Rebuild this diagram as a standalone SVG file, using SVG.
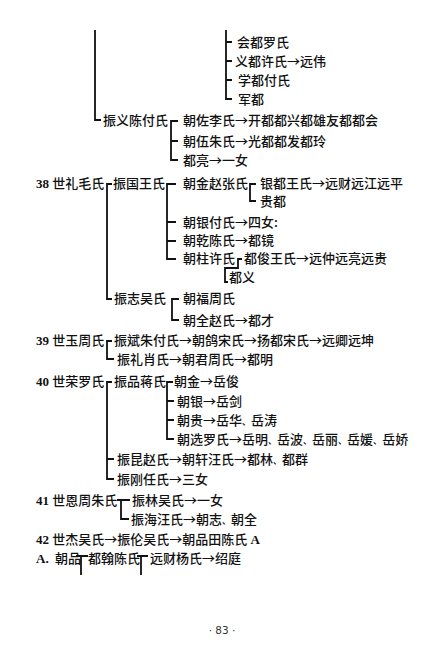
<svg xmlns="http://www.w3.org/2000/svg" width="436" height="650" viewBox="0 0 436 650">
<style>
.t{font-family:'Noto Sans CJK SC',sans-serif;font-size:13px;font-weight:500;fill:#111}
.n{font-family:'Liberation Serif',serif;font-weight:bold}
.d{font-size:9px}
.pg{font-family:'DejaVu Sans',sans-serif;font-size:10.5px;fill:#333;text-anchor:middle}
.c{stroke:#111;stroke-width:1.8;fill:none}
</style>
<rect width="436" height="650" fill="#fff"/>
<g id="connectors">
<path class="c" d="M95,30 V120 H101"/>
<path class="c" d="M226,30 V99 H232 M226,42 H232 M226,61 H232 M226,80 H232"/>
<path class="c" d="M178,121 H171 V160 H178 M171,141 H178"/>
<path class="c" d="M112,184 H107 V299 H112"/>
<path class="c" d="M176,184 H167 V259 H176 M167,222 H176 M167,241 H176"/>
<path class="c" d="M256,184 H250 V201 H256"/>
<path class="c" d="M242,259 H238 V268 H225 V282 H228"/>
<path class="c" d="M179,299 H172 V320 H179"/>
<path class="c" d="M112,341 H107 V359 H114"/>
<path class="c" d="M112,382 H107 V479 H114 M107,459 H114"/>
<path class="c" d="M173,382 H167 V439 H174 M167,401 H174 M167,420 H174"/>
<path class="c" d="M117,500 H130 M121,500 V519 H129"/>
<path class="c" d="M76,556 H88 M81,556 V575 M137,556 H148 M141,556 V575"/>
</g>
<g id="n-huidu"><text class="t" x="237" y="47">会都罗氏</text></g>
<g id="n-yidu"><text class="t" x="235" y="66">义都许氏→远伟</text></g>
<g id="n-xuedu"><text class="t" x="238" y="85">学都付氏</text></g>
<g id="n-jundu"><text class="t" x="238" y="104">军都</text></g>
<g id="n-zhenyi"><text class="t" x="103" y="125">振义陈付氏</text></g>
<g id="n-chaozuo"><text class="t" x="183" y="125">朝佐李氏→开都都兴都雄友都都会</text></g>
<g id="n-chaowu"><text class="t" x="183" y="146">朝伍朱氏→光都都发都玲</text></g>
<g id="n-duliang"><text class="t" x="183" y="165">都亮→一女</text></g>
<g id="n-38"><text class="t" x="36" y="188"><tspan class="n">38 </tspan>世礼毛氏</text></g>
<g id="n-zhenguo"><text class="t" x="113" y="188">振国王氏</text></g>
<g id="n-chaojin"><text class="t" x="183" y="188">朝金赵张氏</text></g>
<g id="n-yindu"><text class="t" x="260" y="188">银都王氏→远财远江远平</text></g>
<g id="n-guidu"><text class="t" x="260" y="206">贵都</text></g>
<g id="n-chaoyin"><text class="t" x="183" y="227">朝银付氏→四女:</text></g>
<g id="n-chaoqian"><text class="t" x="183" y="245">朝乾陈氏→都镜</text></g>
<g id="n-chaozhu"><text class="t" x="183" y="263">朝柱许氏</text></g>
<g id="n-dujun"><text class="t" x="244" y="263">都俊王氏→远仲远亮远贵</text></g>
<g id="n-duyi"><text class="t" x="229" y="282">都义</text></g>
<g id="n-zhenzhi"><text class="t" x="114" y="303">振志吴氏</text></g>
<g id="n-chaofu"><text class="t" x="183" y="303">朝福周氏</text></g>
<g id="n-chaoquan"><text class="t" x="183" y="325">朝全赵氏→都才</text></g>
<g id="n-39"><text class="t" x="36" y="345"><tspan class="n">39 </tspan>世玉周氏</text></g>
<g id="n-zhenbin"><text class="t" x="114" y="345">振斌朱付氏→朝鸽宋氏→扬都宋氏→远卿远坤</text></g>
<g id="n-zhenli"><text class="t" x="117" y="364">振礼肖氏→朝君周氏→都明</text></g>
<g id="n-40"><text class="t" x="36" y="386"><tspan class="n">40 </tspan>世荣罗氏</text></g>
<g id="n-zhenpin"><text class="t" x="114" y="386">振品蒋氏</text></g>
<g id="n-chaojin2"><text class="t" x="174" y="386">朝金→岳俊</text></g>
<g id="n-chaoyin2"><text class="t" x="177" y="406">朝银→岳剑</text></g>
<g id="n-chaogui"><text class="t" x="177" y="425">朝贵→岳华<tspan class="d">、</tspan>岳涛</text></g>
<g id="n-chaoxuan"><text class="t" x="177" y="444">朝选罗氏→岳明<tspan class="d">、</tspan>岳波<tspan class="d">、</tspan>岳丽<tspan class="d">、</tspan>岳媛<tspan class="d">、</tspan>岳娇</text></g>
<g id="n-zhenkun"><text class="t" x="117" y="464">振昆赵氏→朝轩汪氏→都林<tspan class="d">、</tspan>都群</text></g>
<g id="n-zhengang"><text class="t" x="117" y="484">振刚任氏→三女</text></g>
<g id="n-41"><text class="t" x="36" y="505"><tspan class="n">41 </tspan>世恩周朱氏</text></g>
<g id="n-zhenlin"><text class="t" x="132" y="505">振林吴氏→一女</text></g>
<g id="n-zhenhai"><text class="t" x="131" y="524">振海汪氏→朝志<tspan class="d">、</tspan>朝全</text></g>
<g id="n-42"><text class="t" x="36" y="544"><tspan class="n">42 </tspan>世杰吴氏→振伦吴氏→朝品田陈氏<tspan class="n"> A</tspan></text></g>
<g id="n-a"><text class="t" x="36" y="563"><tspan class="n">A. </tspan><tspan dx="3">朝品</tspan></text></g>
<g id="n-duhan"><text class="t" x="88" y="563">都翰陈氏</text></g>
<g id="n-yuancai"><text class="t" x="150" y="563">远财杨氏→绍庭</text></g>
<text class="pg" x="222" y="634">· 83 ·</text>
</svg>
